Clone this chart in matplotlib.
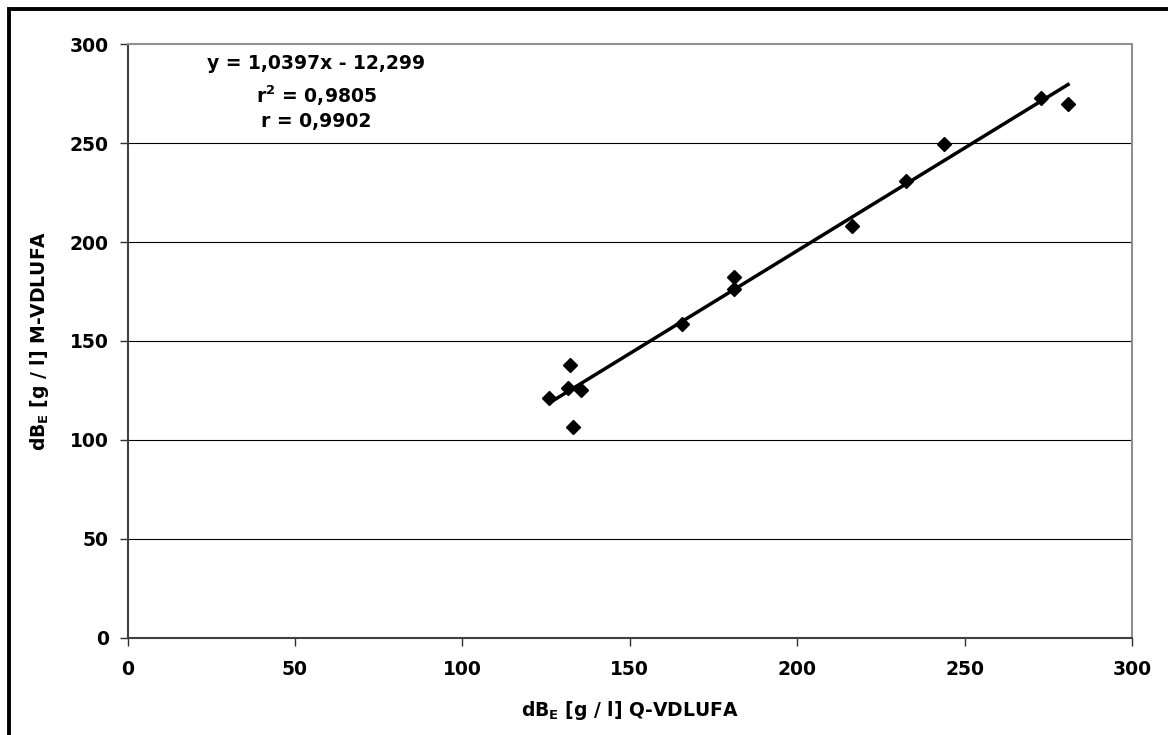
import matplotlib
matplotlib.use("Agg")
import matplotlib.pyplot as plt
from matplotlib.patches import Rectangle
import numpy as np

# Q-VDLUFA vs. M-VDLUFA measurements (g/l)
q_vdlufa = [126.0, 131.5, 135.5, 132.3, 133.2, 165.5, 181.2, 181.2,
            216.5, 232.6, 244.0, 272.8, 280.9]
m_vdlufa = [121.3, 126.3, 125.4, 138.0, 106.5, 158.8, 176.2, 182.4,
            208.4, 231.1, 249.9, 272.7, 269.7]

slope = 1.0397
intercept = -12.299
eq_lines = ["y = 1,0397x - 12,299", r"r$^{\mathbf{2}}$ = 0,9805", "r = 0,9902"]

ticks = [0, 50, 100, 150, 200, 250, 300]

W, H = 1168, 735
plt.rcParams['font.family'] = ['DejaVu Sans']
plt.rcParams['mathtext.fontset'] = 'dejavusans'
fig = plt.figure(figsize=(W / 100, H / 100), dpi=100)

FS = 13.5

# axes placed in pixel units
left, right, top, bottom = 127.5, 1132, 44.5, 637.5
ax = fig.add_axes([left / W, 1 - bottom / H, (right - left) / W, (bottom - top) / H])

ax.set_xlim(0, 300)
ax.set_ylim(0, 300)
ax.set_xticks(ticks)
ax.set_yticks(ticks)
ax.set_xticklabels([str(t) for t in ticks], fontsize=FS, fontweight='bold')
ax.set_yticklabels([str(t) for t in ticks], fontsize=FS, fontweight='bold')
ax.tick_params(direction='out', length=5.5, width=1.0, color='#303030')
ax.tick_params(axis='x', pad=11)
ax.tick_params(axis='y', pad=8)

for t in ticks[1:-1]:
    ax.axhline(t, color='black', lw=0.8, zorder=1)

for side in ('top', 'right'):
    ax.spines[side].set_color('#909090')
    ax.spines[side].set_linewidth(1.5)
for side in ('left', 'bottom'):
    ax.spines[side].set_color('#404040')
    ax.spines[side].set_linewidth(1.5)

# regression line over the measured range
xl = np.array([min(q_vdlufa), max(q_vdlufa)])
ax.plot(xl, slope * xl + intercept, color='black', lw=2.5, zorder=3)
ax.plot(q_vdlufa, m_vdlufa, linestyle='none', marker='D', ms=6.8,
        color='black', zorder=4)

# axis titles
fig.text(630 / W, 1 - 710 / H, r"dB$_{\mathbf{E}}$ [g / l] Q-VDLUFA",
         fontsize=FS, fontweight='bold', ha='center', va='center')
fig.text(40 / W, 1 - 340.5 / H, r"dB$_{\mathbf{E}}$ [g / l] M-VDLUFA",
         fontsize=FS, fontweight='bold', ha='center', va='center',
         rotation=90)

# regression statistics
for line, base in zip(eq_lines, [69, 103, 127]):
    fig.text(316 / W, 1 - base / H, line, fontsize=FS, fontweight='bold',
             ha='center', va='baseline')

# outer frame
fig.patches.append(Rectangle((9 / W, -0.05), 1.1, 1 - 8.5 / H + 0.05,
                             transform=fig.transFigure, fill=False,
                             edgecolor='black', lw=2.8))

fig.savefig("out.png", dpi=100)
